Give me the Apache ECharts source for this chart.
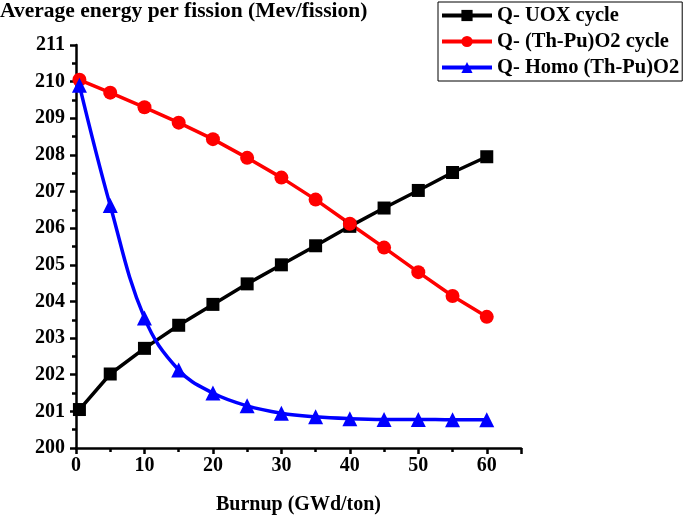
<!DOCTYPE html>
<html>
<head>
<meta charset="utf-8">
<script src="https://cdn.jsdelivr.net/npm/echarts@6/dist/echarts.min.js"></script>
<style>
html, body { margin: 0; padding: 0; background: #fff; }
#main { width: 685px; height: 515px; }
</style>
</head>
<body>
<div id="main"></div>
<script>
var burnup = [0.5, 5, 10, 15, 20, 25, 30, 35, 40, 45, 50, 55, 60];
var uox = [201.05, 202.02, 202.72, 203.35, 203.92, 204.48, 205.0, 205.52, 206.05, 206.55, 207.03, 207.52, 207.95];
var thpu = [210.05, 209.7, 209.3, 208.88, 208.43, 207.92, 207.38, 206.78, 206.12, 205.47, 204.8, 204.15, 203.58];
var homo = [209.9, 206.62, 203.55, 202.13, 201.5, 201.15, 200.95, 200.85, 200.8, 200.78, 200.78, 200.77, 200.77];
var names = ['Q- UOX cycle', 'Q- (Th-Pu)O2 cycle', 'Q- Homo (Th-Pu)O2'];

function pairs(ys) {
    return burnup.map(function (x, i) { return [x, ys[i]]; });
}

var dom = document.getElementById('main');
var myChart = echarts.init(dom);
var font = 'Liberation Serif';

var option = {
    animation: false,
    title: {
        text: 'Average energy per fission (Mev/fission)',
        left: 0,
        top: 0,
        padding: 0,
        textStyle: { fontFamily: font, fontWeight: 'bold', fontSize: 21.5, color: '#000' }
    },
    legend: {
        orient: 'vertical',
        left: 438,
        top: 2,
        itemWidth: 50,
        itemHeight: 14,
        itemGap: 5,
        padding: [3, 3, 3, 2],
        borderColor: '#000',
        borderWidth: 1,
        lineStyle: { width: 4 },
        textStyle: { fontFamily: font, fontWeight: 'bold', fontSize: 20.5, color: '#000' },
        data: names
    },
    grid: { left: 76, right: 164, top: 45, bottom: 67, outerBoundsMode: 'none' },
    xAxis: {
        type: 'value',
        min: 0, max: 65, interval: 10,
        name: 'Burnup (GWd/ton)',
        nameLocation: 'middle',
        nameGap: 47,
        nameTextStyle: { fontFamily: font, fontWeight: 'bold', fontSize: 20, color: '#000' },
        axisLine: { lineStyle: { color: '#000', width: 2.5 } },
        axisTick: { inside: false, length: 6, lineStyle: { width: 2.5 } },
        minorTick: { show: true, splitNumber: 2, length: 4, lineStyle: { color: '#000', width: 2.5 } },
        splitLine: { show: false },
        axisLabel: { fontFamily: font, fontWeight: 'bold', fontSize: 20, color: '#000', margin: 8,
            formatter: function (v) { return v > 60 ? '' : v; } }
    },
    yAxis: {
        type: 'value',
        min: 200, max: 211, interval: 1,
        axisLine: { show: true, lineStyle: { color: '#000', width: 2.5 } },
        axisTick: { show: true, length: 6, lineStyle: { width: 2.5 } },
        minorTick: { show: true, splitNumber: 2, length: 4, lineStyle: { color: '#000', width: 2.5 } },
        splitLine: { show: false },
        axisLabel: { fontFamily: font, fontWeight: 'bold', fontSize: 20, color: '#000', margin: 11 }
    },
    series: [{
        name: names[0],
        type: 'line',
        data: pairs(uox),
        symbol: 'rect',
        symbolSize: 13,
        color: '#000',
        lineStyle: { width: 3.5 }
    }, {
        name: names[1],
        type: 'line',
        data: pairs(thpu),
        symbol: 'circle',
        symbolSize: 14,
        color: '#ff0000',
        lineStyle: { width: 3.5 }
    }, {
        name: names[2],
        type: 'line',
        data: pairs(homo),
        symbol: 'triangle',
        symbolSize: 15,
        smooth: 0.4,
        color: '#0000ff',
        lineStyle: { width: 3.5 }
    }]
};

if (option && typeof option === 'object') {
    myChart.setOption(option, true);
}
</script>
</body>
</html>
